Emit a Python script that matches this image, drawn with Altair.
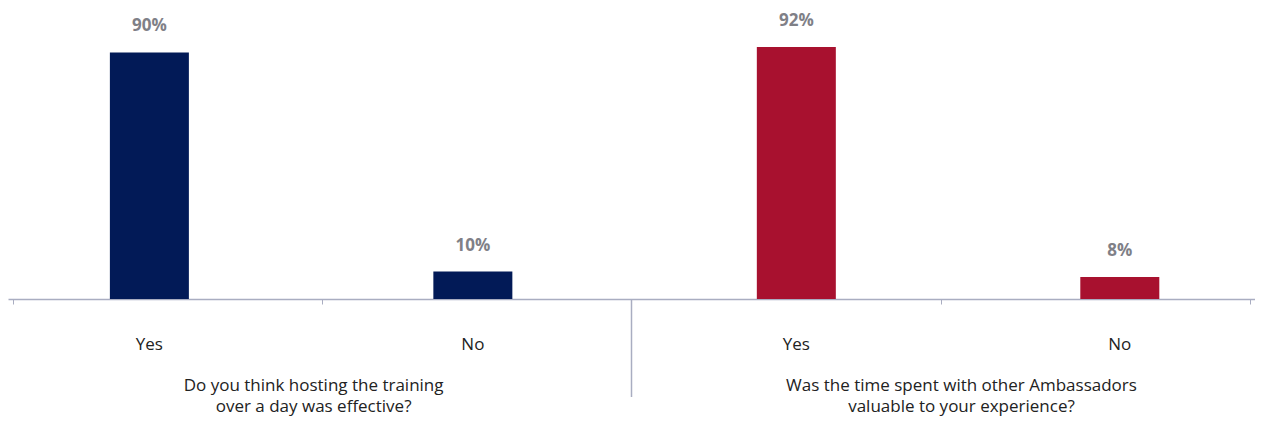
import altair as alt
import pandas as pd

question_lines = [["Do you think hosting the training", "over a day was effective?"],
                  ["Was the time spent with other Ambassadors", "valuable to your experience?"]]
answers = ["Yes", "No", "Yes", "No"]
values = [90, 10, 92, 8]
groups = [0, 0, 1, 1]
colors = ["#021a57", "#a8112f"]

questions = [" ".join(q) for q in question_lines]

# layout (x units: 4 units span the axis; ticks at 0..4)
bar_pos = [0.441 + i * 1.046 for i in range(len(values))]
title_pos = [0.972, 3.067]

bars = pd.DataFrame({
    "pos": bar_pos,
    "answer": answers,
    "value": values,
    "label": [f"{v}%" for v in values],
    "group": [questions[g] for g in groups],
})
titles = pd.DataFrame({"pos": title_pos,
                       "line1": [q[0] for q in question_lines],
                       "line2": [q[1] for q in question_lines]})
divider = pd.DataFrame({"pos": [2.0]})

xs = alt.Scale(domain=[0, 4])
ys = alt.Scale(domain=[0, 106.2])
H = 291
FONT = "Open Sans"

base = alt.Chart(bars)
bar = base.mark_bar(size=79).encode(
    x=alt.X("pos:Q", scale=xs, axis=alt.Axis(values=[0, 1, 2, 3, 4], labels=False, title=None,
                                             grid=False, tickSize=5, domainColor="#a9adc1",
                                             tickColor="#a9adc1", domainWidth=1.5)),
    y=alt.Y("value:Q", scale=ys, axis=None),
    color=alt.Color("group:N", scale=alt.Scale(domain=questions, range=colors), legend=None),
)
pct = base.mark_text(font=FONT, fontSize=17, fontWeight="bold", color="#7f8087", dy=-26,
                     baseline="middle").encode(
    x=alt.X("pos:Q", scale=xs), y=alt.Y("value:Q", scale=ys), text="label:N")
ans = base.mark_text(font=FONT, fontSize=17, color="#222222", baseline="middle").encode(
    x=alt.X("pos:Q", scale=xs), y=alt.value(H + 46), text="answer:N")
tbase = alt.Chart(titles).mark_text(font=FONT, fontSize=17, color="#222222", baseline="middle")
tit1 = tbase.encode(x=alt.X("pos:Q", scale=xs), y=alt.value(H + 87), text="line1:N")
tit2 = tbase.encode(x=alt.X("pos:Q", scale=xs), y=alt.value(H + 108), text="line2:N")
div = alt.Chart(divider).mark_rule(color="#a9adc1", strokeWidth=1.5).encode(
    x=alt.X("pos:Q", scale=xs), y=alt.value(H), y2=alt.value(H + 98))

chart = alt.layer(bar, pct, ans, tit1, tit2, div).properties(
    width=1247, height=H,
    autosize=alt.AutoSizeParams(type="none"),
    padding={"left": 0, "top": 0, "right": 0, "bottom": 117},
).configure_view(stroke=None)

chart.save("out.html", embed_options={"renderer": "svg", "actions": False})
